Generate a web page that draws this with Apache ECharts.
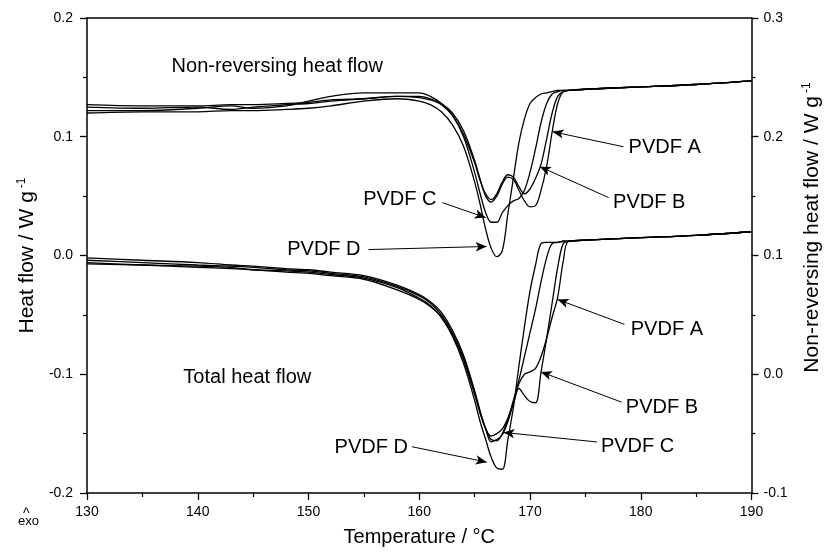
<!DOCTYPE html>
<html>
<head>
<meta charset="utf-8">
<script src="https://cdn.jsdelivr.net/npm/echarts@6/dist/echarts.min.js"></script>
<style>html,body{margin:0;padding:0;background:#fff}#c{width:831px;height:552px}</style>
</head>
<body>
<div id="c"></div>
<script>
// Temperature grid (°C)
var temps = [130,135,140,143,145,148,150,152,155,158,160,161,162,163,164,165,165.5,166,166.5,167,167.5,168,168.5,169,169.5,170,170.5,171,171.5,172,172.5,173,173.5,175,180,185,190];

// Total heat flow (left axis, W/g)
var totalA = [-0.004,-0.006,-0.008,-0.009,-0.010,-0.012,-0.013,-0.015,-0.018,-0.026,-0.034,-0.040,-0.050,-0.065,-0.086,-0.115,-0.132,-0.146,-0.155,-0.156,-0.150,-0.138,-0.122,-0.108,-0.100,-0.098,-0.095,-0.085,-0.070,-0.052,-0.035,-0.005,0.012,0.013,0.015,0.017,0.020];
var totalB = [-0.006,-0.008,-0.010,-0.011,-0.012,-0.014,-0.015,-0.017,-0.020,-0.029,-0.037,-0.043,-0.052,-0.067,-0.088,-0.117,-0.133,-0.146,-0.152,-0.150,-0.146,-0.137,-0.125,-0.112,-0.118,-0.123,-0.124,-0.098,-0.070,-0.040,-0.010,0.010,0.012,0.013,0.015,0.017,0.020];
var totalC = [-0.002,-0.004,-0.006,-0.008,-0.009,-0.011,-0.012,-0.014,-0.017,-0.025,-0.033,-0.039,-0.048,-0.063,-0.084,-0.114,-0.131,-0.146,-0.157,-0.155,-0.151,-0.140,-0.124,-0.105,-0.085,-0.065,-0.045,-0.022,-0.002,0.010,0.011,0.012,0.012,0.013,0.015,0.017,0.020];
var totalD = [-0.007,-0.008,-0.009,-0.010,-0.012,-0.013,-0.014,-0.016,-0.019,-0.027,-0.036,-0.042,-0.052,-0.068,-0.091,-0.122,-0.140,-0.155,-0.170,-0.179,-0.180,-0.155,-0.128,-0.093,-0.060,-0.030,-0.008,0.010,0.011,0.011,0.011,0.012,0.012,0.013,0.015,0.017,0.020];

// Non-reversing heat flow (right axis, W/g)
var nonrevA = [0.227,0.226,0.226,0.227,0.227,0.228,0.229,0.231,0.232,0.234,0.234,0.232,0.228,0.220,0.205,0.180,0.164,0.150,0.145,0.150,0.160,0.166,0.164,0.155,0.146,0.141,0.142,0.155,0.175,0.204,0.228,0.238,0.239,0.240,0.242,0.244,0.247];
var nonrevB = [0.225,0.224,0.225,0.223,0.225,0.227,0.228,0.230,0.232,0.234,0.233,0.231,0.227,0.218,0.202,0.178,0.163,0.152,0.147,0.152,0.162,0.168,0.166,0.158,0.152,0.156,0.165,0.177,0.198,0.220,0.234,0.238,0.239,0.240,0.242,0.244,0.247];
var nonrevC = [0.222,0.222,0.224,0.226,0.224,0.226,0.230,0.234,0.237,0.237,0.237,0.234,0.228,0.218,0.200,0.170,0.152,0.136,0.128,0.128,0.136,0.142,0.146,0.148,0.155,0.170,0.190,0.212,0.228,0.236,0.238,0.239,0.239,0.240,0.242,0.244,0.247];
var nonrevD = [0.220,0.221,0.221,0.222,0.222,0.223,0.224,0.226,0.230,0.232,0.230,0.227,0.221,0.210,0.192,0.162,0.143,0.122,0.106,0.099,0.104,0.135,0.165,0.195,0.215,0.228,0.233,0.236,0.237,0.238,0.239,0.239,0.239,0.240,0.242,0.244,0.247];

// Axis ticks
var xTicks = [130,140,150,160,170,180,190];
var leftTicks = [-0.2,-0.1,0.0,0.1,0.2];
var rightTicks = [-0.1,0.0,0.1,0.2,0.3];

// Annotations: label, text anchor [T, v], arrow start [T, v], arrow tip [T, v], text align
var nonrevNotes = [
  {name:'PVDF A', text:[178.9,0.1908], from:[178.44,0.1916], to:[172.04,0.2042], align:'left'},
  {name:'PVDF B', text:[177.5,0.1445], from:[177.11,0.1487], to:[170.89,0.1748], align:'left'},
  {name:'PVDF C', text:[161.56,0.147], from:[162.09,0.1445], to:[166.0,0.1319], align:'right'},
  {name:'PVDF D', text:[154.7,0.105], from:[155.42,0.105], to:[166.09,0.1076], align:'right'}
];
var totalNotes = [
  {name:'PVDF A', text:[179.1,-0.062], from:[178.53,-0.058], to:[172.49,-0.037], align:'left'},
  {name:'PVDF B', text:[178.65,-0.1277], from:[178.27,-0.1235], to:[170.98,-0.098], align:'left'},
  {name:'PVDF C', text:[176.4,-0.1605], from:[176.04,-0.157], to:[167.6,-0.149], align:'left'},
  {name:'PVDF D', text:[158.98,-0.1613], from:[159.33,-0.161], to:[166.09,-0.174], align:'right'}
];
var sectionTitles = [
  {name:'Non-reversing heat flow', pos:[137.64,0.2588]},
  {name:'Total heat flow', pos:[138.7,-0.1025]}
];

var FONT = 'Liberation Sans';
var TXT = 20;
function pairs(vals){ return temps.map(function(t,i){ return [t, vals[i]]; }); }

function notesMarkLine(notes){
  return {
    silent:true, animation:false,
    symbol:['none','arrow'], symbolSize:[7,11],
    lineStyle:{color:'#000', width:1, type:'solid'},
    label:{show:false},
    emphasis:{disabled:true},
    data: notes.map(function(n){ return [{coord:n.from, symbol:'none'},{coord:n.to, symbol:'arrow'}]; })
  };
}
function notesMarkPoint(notes){
  return {
    silent:true, animation:false,
    symbol:'circle', symbolSize:0,
    data: notes.map(function(n){
      return {coord:n.text, value:n.name, label:{show:true, formatter:n.name, position:n.align==='left'?'right':'left', distance:0,
        color:'#000', fontFamily:FONT, fontSize:TXT}};
    })
  };
}

var lineStyle = {color:'#000', width:1.3};
function mkSeries(name, vals, yIdx, extra){
  var s = {name:name, type:'line', data:pairs(vals), yAxisIndex:yIdx, xAxisIndex:0,
    showSymbol:false, symbol:'none', smooth:0.35, lineStyle:lineStyle, silent:true, animation:false, z:3};
  if(extra){ for(var k in extra) s[k]=extra[k]; }
  return s;
}

var titleMP = function(idx){
  var t = sectionTitles[idx];
  return {silent:true, animation:false, symbol:'circle', symbolSize:0,
    data:[{coord:t.pos, value:t.name, label:{show:true, formatter:t.name, position:'right', distance:0, color:'#000', fontFamily:FONT, fontSize:TXT}}]};
};

var series = [
  mkSeries('Total A', totalA, 0, {markLine:notesMarkLine(totalNotes), markPoint:notesMarkPoint(totalNotes)}),
  mkSeries('Total B', totalB, 0, {markPoint:titleMP(1)}),
  mkSeries('Total C', totalC, 0),
  mkSeries('Total D', totalD, 0),
  mkSeries('Nonrev A', nonrevA, 1, {markLine:notesMarkLine(nonrevNotes), markPoint:notesMarkPoint(nonrevNotes)}),
  mkSeries('Nonrev B', nonrevB, 1, {markPoint:titleMP(0)}),
  mkSeries('Nonrev C', nonrevC, 1),
  mkSeries('Nonrev D', nonrevD, 1)
];

var axisLine = {show:true, onZero:false, lineStyle:{color:'#000', width:1.5}};
var tickStyle = {show:true, inside:false, length:7, lineStyle:{color:'#000', width:1.3}};
var minorStyle = {show:true, splitNumber:2, length:4, lineStyle:{color:'#000', width:1.2}};
var labelStyle = {color:'#000', fontFamily:FONT, fontSize:14};
var supRich = {s:{fontFamily:FONT, fontSize:12, verticalAlign:'top', padding:[0,0,12,3], color:'#000'}};

var option = {
  animation:false,
  backgroundColor:'#fff',
  grid:{left:87, right:70, top:18, bottom:58, containLabel:false},
  xAxis:[
    {type:'value', min:xTicks[0], max:xTicks[xTicks.length-1], interval:10, position:'bottom',
     axisLine:axisLine, axisTick:tickStyle, minorTick:minorStyle, splitLine:{show:false},
     axisLabel:Object.assign({margin:12, formatter:function(v){return xTicks.indexOf(v)>=0?String(v):'';}}, labelStyle),
     name:'Temperature / °C', nameLocation:'middle', nameGap:34,
     nameTextStyle:{color:'#000', fontFamily:FONT, fontSize:TXT}},
    {type:'value', min:xTicks[0], max:xTicks[xTicks.length-1], position:'top',
     axisLine:axisLine, axisTick:{show:false}, axisLabel:{show:false}, splitLine:{show:false}}
  ],
  yAxis:[
    {type:'value', min:leftTicks[0], max:leftTicks[leftTicks.length-1], interval:0.1, position:'left',
     axisLine:axisLine, axisTick:tickStyle, minorTick:minorStyle, splitLine:{show:false},
     axisLabel:Object.assign({margin:14, formatter:function(v){return v.toFixed(1);}}, labelStyle),
     name:'Heat flow / W g{s|-1}', nameLocation:'middle', nameGap:47, nameRotate:90,
     nameTextStyle:{color:'#000', fontFamily:FONT, fontSize:21, rich:supRich}},
    {type:'value', min:rightTicks[0], max:rightTicks[rightTicks.length-1], interval:0.1, position:'right',
     axisLine:axisLine, axisTick:tickStyle, minorTick:minorStyle, splitLine:{show:false},
     axisLabel:Object.assign({margin:12, formatter:function(v){return v.toFixed(1);}}, labelStyle),
     name:'Non-reversing heat flow / W g{s|-1}', nameLocation:'middle', nameGap:49, nameRotate:90,
     nameTextStyle:{color:'#000', fontFamily:FONT, fontSize:21, padding:[0,0,0,56], rich:supRich}}
  ],
  graphic:[
    {type:'text', left:23, top:507, style:{text:'^', fontFamily:FONT, fontSize:14, fill:'#000'}},
    {type:'text', left:18, top:515, style:{text:'exo', fontFamily:FONT, fontSize:13, fill:'#000'}}
  ],
  series:series
};

var chart = echarts.init(document.getElementById('c'), null, {renderer:'canvas'});
chart.setOption(option);
</script>
</body>
</html>
